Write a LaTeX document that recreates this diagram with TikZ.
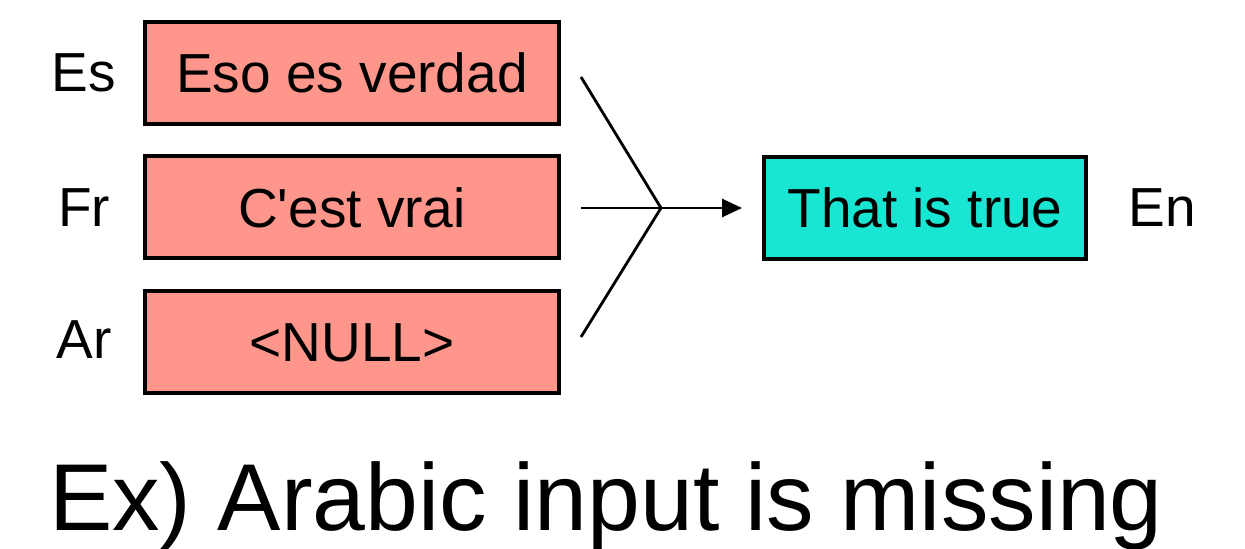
\documentclass[tikz,border=0pt]{standalone}
\usepackage{fontspec}
\setmainfont{Liberation Sans}
\usetikzlibrary{arrows.meta}
\definecolor{salmon}{RGB}{255,150,140}
\definecolor{aqua}{RGB}{24,230,210}
\tikzset{
  srcbox/.style={draw=black, line width=2pt, fill=salmon, minimum width=207pt, minimum height=51pt, inner sep=0pt, font=\fontsize{27.5}{30}\selectfont},
  tgtbox/.style={draw=black, line width=2pt, fill=aqua, minimum width=161pt, minimum height=51pt, inner sep=0pt, font=\fontsize{27.5}{30}\selectfont},
  lang/.style={inner sep=0pt, font=\fontsize{27.5}{30}\selectfont},
  conn/.style={line width=1.4pt, black},
}
\begin{document}
\begin{tikzpicture}[x=0.5pt,y=-0.5pt]
\useasboundingbox (0,0) rectangle (1245,549);
\node[srcbox] (es) at (352,73) {Eso es verdad};
\node[srcbox] (fr) at (352,207.5) {C\textquotesingle est vrai};
\node[srcbox] (ar) at (352,342.5) {<NULL>};
\node[tgtbox] (en) at (925,208) {That is true};
\node[lang] (les) at (84,73) {Es};
\node[lang] (lfr) at (84,208) {Fr};
\node[lang] (lar) at (84,340) {Ar};
\node[lang] (len) at (1162,208) {En};
\coordinate (t1) at (581,77);
\coordinate (m1) at (581,208);
\coordinate (b1) at (581,337);
\coordinate (j) at (661,208);
\draw[conn] (t1) -- (j) -- (b1);
\draw[conn] (m1) -- (j);
\draw[conn, -{Triangle[length=10pt,width=9pt]}, shorten >=10pt] (j) -- (en.west);
\node[anchor=base, inner sep=0pt, font=\fontsize{47.5}{52}\selectfont] (cap) at (606,530) {Ex) Arabic input is missing};
\end{tikzpicture}
\end{document}
